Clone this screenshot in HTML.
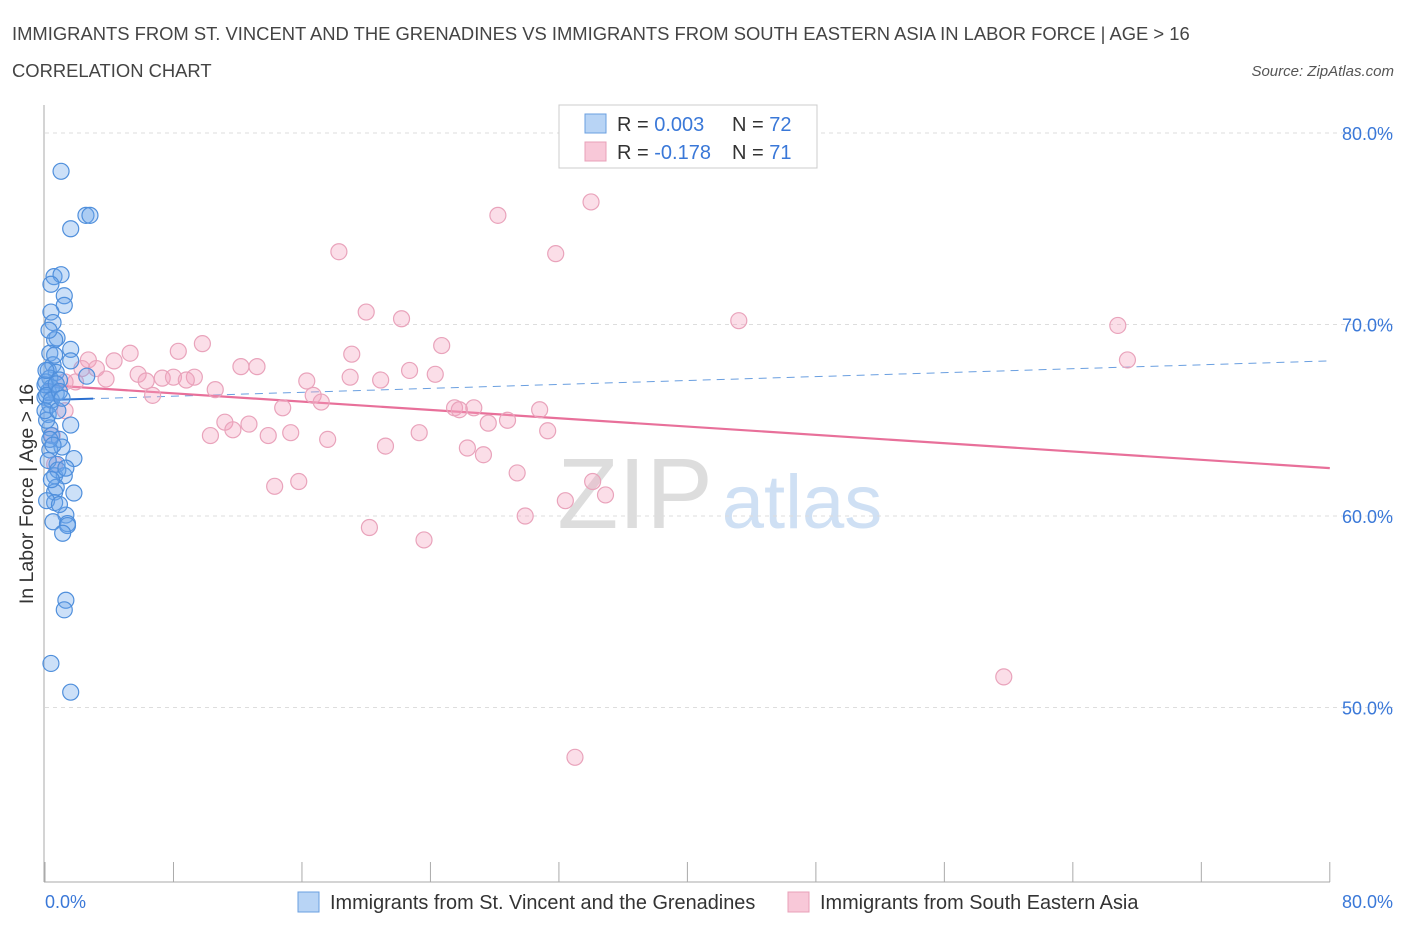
<!DOCTYPE html>
<html><head><meta charset="utf-8"><style>
body{margin:0;background:#fff;font-family:"Liberation Sans",sans-serif}
svg text{font-family:"Liberation Sans",sans-serif}
</style></head><body>
<svg id="chart" width="1406" height="930" viewBox="0 0 1406 930">
<text x="12" y="40" font-size="18.4" fill="#444">IMMIGRANTS FROM ST. VINCENT AND THE GRENADINES VS IMMIGRANTS FROM SOUTH EASTERN ASIA IN LABOR FORCE | AGE &gt; 16</text>
<text x="12" y="77" font-size="18.4" fill="#444">CORRELATION CHART</text>
<text x="1394" y="76" font-size="15" fill="#555" text-anchor="end" font-style="italic">Source: ZipAtlas.com</text>
<g>
<text x="635" y="528" font-size="100" fill="#ddd" text-anchor="middle" font-family="Liberation Serif,serif">ZIP</text>
<text x="802" y="528" font-size="76" fill="#cfe0f4" text-anchor="middle">atlas</text>
</g>
<g id="grid"></g>
<g id="axes"></g>
<g id="trends"></g>
<g id="points"></g>
<text transform="translate(33,494) rotate(-90)" font-size="19.5" fill="#333" text-anchor="middle">In Labor Force | Age &gt; 16</text>
<g>
<rect x="559" y="105" width="258" height="63" fill="#fff" stroke="#ccc"/>
<rect x="585" y="114" width="21" height="19" fill="#b8d4f5" stroke="#6a9fe0"/>
<rect x="585" y="142" width="21" height="19" fill="#f8c8d8" stroke="#e8a0b8"/>
<text x="617" y="131" font-size="20" fill="#333">R = <tspan fill="#3a78d8">0.003</tspan></text>
<text x="732" y="131" font-size="20" fill="#333">N = <tspan fill="#3a78d8">72</tspan></text>
<text x="617" y="159" font-size="20" fill="#333">R = <tspan fill="#3a78d8">-0.178</tspan></text>
<text x="732" y="159" font-size="20" fill="#333">N = <tspan fill="#3a78d8"> 71</tspan></text>
</g>
<g>
<rect x="298" y="892" width="21" height="20" fill="#b8d4f5" stroke="#6a9fe0"/>
<text x="330" y="909" font-size="19.9" fill="#333">Immigrants from St. Vincent and the Grenadines</text>
<rect x="788" y="892" width="21" height="20" fill="#f8c8d8" stroke="#e8a0b8"/>
<text x="820" y="909" font-size="19.9" fill="#333">Immigrants from South Eastern Asia</text>
</g>
</svg>
<script>
const blueX=[1.0,2.55,2.8,1.6,0.56,1.0,0.37,1.2,1.2,0.37,0.5,0.75,0.6,1.6,0.3,1.6,0.5,0.2,0.7,0.3,0.06,0.9,2.6,0.4,0.2,0.7,0,0.3,0.2,1.6,0.3,0.4,0.9,1.06,0.3,1.8,0.75,0.6,1.2,0.7,0.6,1.8,0.6,1.3,0.5,1.4,1.4,1.1,1.3,1.2,0.37,1.6,0,0.1,0.4,0.7,0.9,0.1,0.3,0.2,0.5,0,0.8,1.06,0.06,0.6,0.25,0.8,0.4,0.1,0.9,1.3];
const blueY=[78.0,75.7,75.7,75.0,72.5,72.6,72.1,71.5,71.0,70.65,70.1,69.3,69.2,68.7,68.5,68.1,67.9,67.6,67.5,67.2,67.0,67.1,67.3,66.7,66.5,66.4,66.2,65.8,65.3,64.75,64.6,64.2,64.0,63.6,63.45,63.0,62.7,62.1,62.1,61.5,61.25,61.2,60.7,60.05,59.7,59.6,59.5,59.1,55.6,55.1,52.3,50.8,66.85,66.3,66.05,66.9,66.5,65.0,64.0,62.9,63.7,65.5,65.5,66.15,67.6,68.4,69.7,62.4,61.9,60.8,60.6,62.5];
const pinkX=[34.0,28.2,18.3,31.8,20.0,22.2,43.2,66.8,9.8,24.7,8.3,19.1,5.3,2.7,4.3,67.4,12.2,13.2,2.3,3.2,22.7,24.3,5.8,3.8,19.0,20.9,7.3,8.0,9.3,8.8,16.3,6.3,1.9,1.25,10.6,16.7,6.7,17.2,14.8,25.5,25.8,26.7,30.8,28.8,27.6,11.2,11.7,12.7,10.3,13.9,15.3,23.3,31.3,17.6,21.2,26.3,27.3,29.4,34.1,15.8,14.3,32.4,34.9,29.9,20.2,23.6,59.7,33.0,1.25,0.6,0.45];
const pinkY=[76.4,75.7,73.8,73.7,70.65,70.3,70.2,69.95,69.0,68.9,68.6,68.45,68.5,68.15,68.1,68.15,67.8,67.8,67.7,67.7,67.6,67.4,67.4,67.15,67.25,67.1,67.2,67.25,67.25,67.1,67.05,67.05,67.0,67.0,66.6,66.3,66.3,65.95,65.65,65.65,65.55,65.65,65.55,65.0,64.85,64.9,64.5,64.8,64.2,64.2,64.35,64.35,64.45,64.0,63.65,63.55,63.2,62.25,61.8,61.8,61.55,60.8,61.1,60.0,59.4,58.75,51.6,47.4,65.5,62.7,64.2];
const yTicks=[50,60,70,80];
const yTickLabels=["50.0%","60.0%","70.0%","80.0%"];
const xTicks=[0,8,16,24,32,40,48,56,64,72,80];
const blueTrend=[66.05,68.1];
const pinkTrend=[66.84,62.5];
const NS="http://www.w3.org/2000/svg";
const X=v=>45+v*16.06, Y=v=>516-(v-60)*19.15;
function mk(t,a,p){const e=document.createElementNS(NS,t);for(const k in a)e.setAttribute(k,a[k]);p.appendChild(e);return e;}
const grid=document.getElementById('grid'),axes=document.getElementById('axes'),tr=document.getElementById('trends'),pts=document.getElementById('points');
yTicks.forEach((v,i)=>{
 const l=mk('line',{x1:45,x2:1396,y1:Y(v),y2:Y(v),stroke:'#ddd','stroke-dasharray':'4,4'},grid);
 
 
 const t=mk('text',{x:1393,y:Y(v)+7,'font-size':18,fill:'#3a78d8','text-anchor':'end'},axes);
 t.textContent=yTickLabels[i];
 
 
});
const ya=mk('line',{x1:44,x2:44,y1:105,y2:882,stroke:'#aaa'},axes);


const xa=mk('line',{x1:44,x2:1330,y1:882,y2:882,stroke:'#aaa'},axes);


xTicks.forEach(v=>{
 const l=mk('line',{x1:X(v),x2:X(v),y1:862,y2:882,stroke:'#aaa'},axes);
 
 
});
[[0,"0.0%",'start',45],[80,"80.0%",'end',1393]].forEach(d=>{
 const t=mk('text',{x:d[3],y:908,'font-size':18,fill:'#3a78d8','text-anchor':d[2]},axes);
 t.textContent=d[1];
 
 
});
function dot(x,y,f,s,n){const c=mk('circle',{cx:X(x),cy:Y(y),r:8,fill:f,stroke:s,'stroke-width':1.2},pts);
 
 }
pinkX.forEach((x,i)=>dot(x,pinkY[i],'rgba(244,160,190,0.35)','#e9a3bb','pink-point'));
blueX.forEach((x,i)=>dot(x,blueY[i],'rgba(110,165,235,0.35)','#4f8fdc','blue-point'));
const bt=mk('line',{x1:X(0),y1:Y(blueTrend[0]),x2:X(80),y2:Y(blueTrend[1]),stroke:'#6a9fe0','stroke-dasharray':'8,6','stroke-width':1},tr);


const bs=mk('line',{x1:X(0),y1:Y(blueTrend[0]),x2:X(3),y2:Y(blueTrend[0]+(blueTrend[1]-blueTrend[0])*3/80),stroke:'#2a6fd0','stroke-width':2},tr);


const pt=mk('line',{x1:X(0),y1:Y(pinkTrend[0]),x2:X(80),y2:Y(pinkTrend[1]),stroke:'#e8709a','stroke-width':2.2},tr);


</script>
</body></html>
